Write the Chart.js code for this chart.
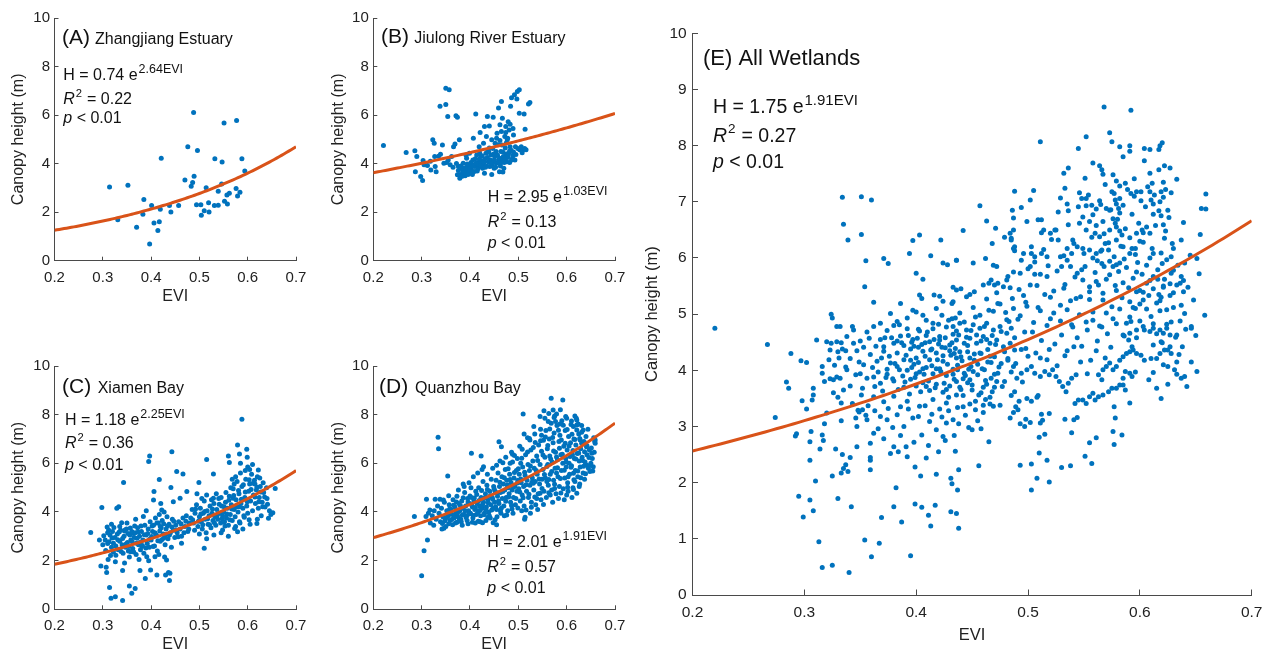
<!DOCTYPE html>
<html>
<head>
<meta charset="utf-8">
<script src="https://cdn.jsdelivr.net/npm/chart.js@4.4.1/dist/chart.umd.min.js"></script>
<style>
  html, body { margin: 0; padding: 0; background: #fff; }
  body { position: relative; width: 1262px; height: 652px; overflow: hidden; }
  canvas { position: absolute; }
</style>
</head>
<body>
<canvas id="pA"></canvas>
<canvas id="pB"></canvas>
<canvas id="pC"></canvas>
<canvas id="pD"></canvas>
<canvas id="pE"></canvas>
<script>
// sites, fit coefficients (H = a * e^(b*EVI)) and stats
const siteTags = ['(A)', '(B)', '(C)', '(D)', '(E)'];
const siteNames = ['Zhangjiang Estuary', 'Jiulong River Estuary', 'Xiamen Bay', 'Quanzhou Bay', 'All Wetlands'];
const fitScale = [0.74, 2.95, 1.18, 2.01, 1.75];
const fitRate = [2.64, 1.03, 2.25, 1.91, 1.91];
const rSquared = ['0.22', '0.13', '0.36', '0.57', '0.27'];
const pValue = ['0.01', '0.01', '0.01', '0.01', '0.01'];

const eviTicks = [0.2, 0.3, 0.4, 0.5, 0.6, 0.7];
const heightTicksSite = [0, 2, 4, 6, 8, 10];
const heightTicksAll = [0, 1, 2, 3, 4, 5, 6, 7, 8, 9, 10];

// [EVI, canopy height (m)]
const zhangjiangPts = [
  [0.314,3.04],[0.352,3.11],[0.331,1.69],[0.370,1.38],[0.385,2.52],[0.383,1.91],[0.397,0.69],[0.401,2.27],
  [0.406,1.55],[0.414,1.24],[0.417,1.61],[0.419,2.12],[0.421,4.22],[0.438,2.27],[0.441,2.01],[0.457,2.27],
  [0.470,3.33],[0.476,4.69],[0.483,3.07],[0.486,3.22],[0.489,3.48],[0.488,6.11],[0.496,4.54],[0.494,2.31],
  [0.503,2.31],[0.504,1.87],[0.510,2.06],[0.514,3.01],[0.519,2.39],[0.520,2.01],[0.531,2.27],[0.532,4.20],
  [0.539,2.28],[0.539,2.86],[0.547,4.07],[0.546,3.16],[0.551,5.67],[0.552,2.45],[0.557,2.71],[0.558,2.34],
  [0.562,2.78],[0.576,2.98],[0.577,5.78],[0.579,2.67],[0.584,2.82],[0.588,4.20],[0.594,3.70]
];

const jiulongPts = [
  [0.221,4.75],[0.268,4.46],[0.286,4.53],[0.290,4.29],[0.287,3.67],[0.298,3.47],[0.302,3.30],[0.303,4.13],
  [0.312,3.92],[0.319,3.74],[0.323,4.98],[0.326,4.84],[0.327,4.29],[0.330,3.67],[0.328,3.88],[0.338,6.36],
  [0.339,4.39],[0.343,4.77],[0.346,4.02],[0.350,6.44],[0.350,7.11],[0.357,7.04],[0.354,5.94],[0.355,4.15],
  [0.359,3.95],[0.362,4.29],[0.366,4.70],[0.371,5.97],[0.374,5.91],[0.369,4.81],[0.376,3.88],[0.378,4.98],
  [0.374,3.54],[0.379,3.40],[0.383,3.81],[0.386,4.02],[0.388,3.60],[0.392,3.67],[0.393,4.22],[0.397,3.74],
  [0.399,4.43],[0.401,3.95],[0.403,3.74],[0.406,4.15],[0.407,5.05],[0.410,3.88],[0.412,6.04],[0.414,4.36],
  [0.417,4.02],[0.419,4.70],[0.421,5.28],[0.423,4.29],[0.426,3.81],[0.428,4.84],[0.430,5.53],[0.430,3.60],
  [0.433,4.43],[0.434,5.12],[0.436,5.94],[0.438,4.08],[0.440,4.64],[0.441,3.88],[0.443,4.36],[0.445,4.98],
  [0.447,4.04],[0.448,5.91],[0.450,3.81],[0.451,4.29],[0.452,4.84],[0.454,4.50],[0.455,4.02],[0.456,5.25],
  [0.459,4.15],[0.459,6.29],[0.461,3.67],[0.462,5.60],[0.464,4.50],[0.465,6.56],[0.465,5.32],[0.466,4.77],
  [0.467,5.87],[0.469,4.29],[0.470,3.81],[0.472,5.12],[0.473,4.64],[0.474,5.53],[0.476,4.08],[0.477,4.98],
  [0.479,5.73],[0.480,4.43],[0.481,5.39],[0.483,4.70],[0.484,6.36],[0.486,6.71],[0.488,4.22],[0.490,5.18],
  [0.492,6.84],[0.494,4.70],[0.497,6.66],[0.498,6.97],[0.502,7.04],[0.502,6.08],[0.503,4.57],[0.506,4.70],
  [0.510,4.57],[0.512,6.04],[0.514,5.42],[0.516,4.57],[0.521,6.46],[0.524,6.52],
  [0.380,3.55],[0.385,3.70],[0.390,3.50],[0.395,3.85],[0.398,3.60],[0.402,4.05],[0.405,3.55],[0.408,3.95],
  [0.411,4.20],[0.415,3.70],[0.418,3.90],[0.420,4.45],[0.424,4.10],[0.427,3.95],[0.431,4.20],[0.435,3.90],
  [0.437,4.55],[0.442,4.15],[0.446,3.95],[0.449,4.40],[0.453,3.85],[0.457,4.35],[0.460,4.05],[0.463,3.90],
  [0.467,4.20],[0.471,4.05],[0.475,4.40],[0.478,4.25],[0.482,4.05],[0.485,4.55],[0.489,4.35],[0.493,4.15],
  [0.468,3.65],[0.445,3.55],[0.392,4.35],[0.372,4.00],[0.365,3.85],[0.352,4.05],[0.335,4.30],[0.318,4.10],
  [0.305,3.95],[0.462,4.95],[0.478,5.05],[0.489,5.45],[0.455,5.05],[0.440,5.55],
  [0.376,3.72],[0.381,3.90],[0.384,3.48],[0.389,3.82],[0.391,3.58],[0.394,3.98],[0.396,3.55],[0.399,3.78],
  [0.403,3.62],[0.406,3.89],[0.409,3.68],[0.413,4.02],[0.416,3.78],[0.419,4.18],[0.422,3.92],[0.425,4.32],
  [0.429,4.05],[0.432,3.85],[0.436,4.25],[0.439,4.48],[0.443,4.05],[0.447,4.62],[0.450,4.15],[0.454,4.38],
  [0.458,4.78],[0.461,4.22],[0.465,4.05],[0.468,4.48],[0.472,4.22],[0.475,4.85],[0.479,4.32],[0.482,4.52],
  [0.486,4.15],[0.490,4.48],[0.495,4.38],[0.499,4.62],[0.508,4.45],[0.513,4.62],[0.474,5.28],[0.483,5.62]
];

const xiamenPts = [
  [0.275,3.16],[0.298,4.18],[0.293,2.85],[0.296,1.78],[0.307,1.73],[0.308,1.51],[0.312,3.26],[0.314,0.90],
  [0.317,0.45],[0.326,0.52],[0.311,2.05],[0.322,2.71],[0.329,4.15],[0.333,4.22],[0.341,0.36],[0.341,1.59],
  [0.343,5.21],[0.339,3.56],[0.346,3.26],[0.355,0.96],[0.360,0.66],[0.367,0.86],[0.358,2.37],[0.363,3.12],
  [0.370,2.71],[0.377,1.59],[0.381,2.58],[0.384,3.81],[0.388,1.27],[0.391,2.16],[0.395,6.07],[0.397,6.30],
  [0.399,1.62],[0.401,2.99],[0.405,4.49],[0.406,4.84],[0.408,2.16],[0.412,1.41],[0.417,5.34],[0.419,3.40],
  [0.422,4.08],[0.426,2.92],[0.430,1.41],[0.432,2.03],[0.436,1.51],[0.438,1.18],[0.439,1.48],[0.441,5.01],
  [0.443,6.48],[0.446,4.42],[0.453,5.66],[0.460,4.56],[0.466,5.56],[0.474,4.84],[0.463,2.71],[0.499,5.21],
  [0.510,2.51],[0.515,6.16],[0.529,5.56],[0.529,4.56],[0.548,3.26],[0.560,6.30],[0.562,6.03],[0.570,4.56],
  [0.579,6.75],[0.583,6.38],[0.585,6.00],[0.588,7.81],[0.598,6.58],[0.599,6.25],[0.619,3.53],[0.622,5.73],
  [0.639,5.00],[0.643,3.74],[0.652,3.97],[0.657,4.97],[0.579,3.19],[0.583,3.60],
  [0.305,2.85],[0.310,2.70],[0.315,3.05],[0.318,2.55],[0.320,3.20],[0.322,2.35],[0.325,2.95],[0.327,2.60],
  [0.330,3.10],[0.332,2.45],[0.335,2.80],[0.337,3.25],[0.340,2.65],[0.342,2.30],[0.344,3.00],[0.347,2.55],
  [0.349,3.30],[0.351,2.75],[0.353,2.40],[0.356,3.05],[0.358,2.85],[0.360,3.20],[0.362,2.50],[0.365,2.95],
  [0.367,3.15],[0.369,2.25],[0.372,3.35],[0.374,2.65],[0.376,3.00],[0.378,2.45],[0.380,3.20],[0.383,2.85],
  [0.385,2.30],[0.387,3.45],[0.390,3.05],[0.392,2.70],[0.394,3.30],[0.396,2.55],[0.398,3.60],[0.400,2.85],
  [0.403,3.20],[0.405,3.45],[0.407,2.60],[0.409,3.75],[0.411,3.05],[0.413,2.40],[0.415,3.55],[0.417,3.90],
  [0.419,2.80],[0.421,3.35],[0.423,3.65],[0.425,3.10],[0.427,4.00],[0.429,2.65],[0.431,3.30],[0.433,3.80],
  [0.435,2.90],[0.437,3.50],[0.440,3.15],[0.442,2.55],[0.444,3.70],[0.446,3.25],[0.449,2.95],[0.451,3.45],
  [0.454,3.15],[0.457,3.60],[0.460,3.30],[0.463,3.00],[0.466,3.75],[0.470,3.40],[0.473,3.85],[0.476,3.20],
  [0.479,3.55],[0.310,3.15],[0.335,3.40],[0.355,2.15],[0.375,2.05],[0.395,2.00],[0.416,2.25],[0.428,2.15],
  [0.350,3.55],[0.368,3.70],[0.390,4.05],[0.420,4.35],[0.300,2.65],[0.326,1.95],[0.345,1.90],[0.318,3.50],
  [0.302,3.02],[0.306,2.42],[0.309,3.38],[0.313,2.78],[0.316,2.21],[0.319,2.93],[0.323,3.36],[0.327,2.22],
  [0.331,2.86],[0.334,3.18],[0.338,2.38],[0.341,2.91],[0.345,3.22],[0.348,2.68],[0.352,3.12],[0.354,2.58],
  [0.357,3.34],[0.361,2.78],[0.364,2.35],[0.366,3.42],[0.371,2.92],[0.373,3.18],[0.377,2.75],[0.379,3.42],
  [0.382,2.62],[0.386,3.06],[0.389,2.52],[0.393,3.12],[0.397,2.88],[0.402,3.42],[0.404,2.58],[0.408,3.15],
  [0.412,3.55],[0.414,2.82],[0.418,3.22],[0.422,2.86],[0.426,3.52],[0.430,3.06],[0.434,3.42],[0.438,3.05],
  [0.443,3.38],[0.447,3.62],[0.452,3.25],[0.456,2.98],[0.462,3.52],[0.468,3.15],[0.472,3.62],[0.478,3.30],
  [0.482,3.75],[0.485,4.10],[0.488,3.55],[0.491,3.95],[0.494,4.30],[0.497,3.40],[0.500,3.80],[0.502,4.15],
  [0.504,3.60],[0.506,3.30],[0.508,3.95],[0.510,4.45],[0.512,3.70],[0.514,3.15],[0.516,4.05],[0.518,3.50],
  [0.520,3.85],[0.522,4.25],[0.524,3.35],[0.526,3.95],[0.528,3.65],[0.530,4.35],[0.532,3.80],[0.534,3.45],
  [0.536,4.10],[0.538,3.70],[0.540,4.55],[0.542,3.95],[0.544,3.55],[0.546,4.25],[0.548,3.85],[0.550,4.00],
  [0.552,3.60],[0.554,4.40],[0.556,3.75],[0.558,4.15],[0.560,3.45],[0.562,4.65],[0.564,3.90],[0.566,4.30],
  [0.568,3.65],[0.570,4.95],[0.572,4.10],[0.574,3.80],[0.576,4.50],[0.578,5.25],[0.580,4.00],[0.582,4.75],
  [0.584,3.55],[0.586,4.35],[0.588,5.05],[0.590,4.15],[0.592,3.85],[0.594,4.60],[0.596,5.35],[0.598,4.25],
  [0.600,3.95],[0.602,4.85],[0.604,5.15],[0.606,4.45],[0.608,5.55],[0.610,4.05],[0.612,4.70],[0.614,5.30],
  [0.616,4.35],[0.618,4.90],[0.620,5.45],[0.622,4.15],[0.624,4.60],[0.626,5.05],[0.628,3.85],[0.630,4.40],
  [0.633,4.80],[0.636,4.20],[0.640,4.55],[0.645,4.05],[0.648,3.90],[0.585,5.60],[0.575,5.45],[0.565,5.00],
  [0.555,4.80],[0.545,4.60],[0.535,4.75],[0.525,4.50],[0.515,4.70],[0.505,4.55],[0.495,4.75],[0.490,3.25],
  [0.500,3.10],[0.515,2.90],[0.530,3.05],[0.545,3.15],[0.560,3.00],[0.575,3.40],[0.590,3.30],[0.605,3.50],
  [0.620,3.70],[0.600,5.85],[0.610,5.95],[0.595,5.70],[0.615,5.15],[0.625,5.40],[0.632,5.20],[0.572,5.15],
  [0.568,5.35],[0.604,5.75],
  [0.486,3.68],[0.492,4.12],[0.498,3.62],[0.503,3.92],[0.507,3.48],[0.511,4.02],[0.517,3.72],[0.521,3.48],
  [0.527,4.12],[0.531,3.56],[0.537,3.88],[0.541,4.32],[0.547,3.72],[0.551,4.22],[0.557,3.92],[0.561,4.48],
  [0.567,4.12],[0.571,4.68],[0.577,4.22],[0.581,4.88],[0.587,4.52],[0.591,5.12],[0.595,4.82],[0.599,4.42],
  [0.603,5.32],[0.607,4.92],[0.611,5.18],[0.615,4.62],[0.619,5.02],[0.623,4.42],[0.627,4.82],[0.631,4.22],
  [0.635,4.62],[0.641,4.32],[0.583,4.22],[0.593,3.78],[0.563,3.68],[0.553,3.42],[0.573,3.32],[0.603,3.68]
];

const quanzhouPts = [
  [0.285,3.81],[0.300,1.38],[0.305,2.41],[0.312,2.85],[0.309,3.81],[0.314,3.95],[0.317,4.08],[0.310,4.52],
  [0.328,4.52],[0.338,4.52],[0.345,4.49],[0.334,7.07],[0.335,6.60],[0.354,5.48],[0.346,3.33],[0.343,3.53],
  [0.356,4.67],[0.386,5.15],[0.403,6.41],[0.423,6.30],[0.428,5.86],[0.448,3.56],[0.455,3.47],[0.460,6.89],
  [0.465,6.68],[0.483,6.00],[0.488,6.37],[0.510,8.03],[0.512,7.21],[0.514,3.78],[0.524,6.96],[0.532,7.51],
  [0.545,7.92],[0.568,8.67],[0.592,8.60],[0.553,8.16],[0.572,8.19],[0.579,8.03],[0.600,7.85],[0.617,7.95],
  [0.621,7.78],[0.531,5.18],[0.545,4.77],[0.566,4.70],[0.600,4.70],[0.621,4.77],[0.614,5.59],[0.641,5.93],
  [0.648,5.66],[0.655,5.86],[0.652,6.41],[0.659,6.82],[0.659,6.96],[0.641,6.68],[0.634,7.37],[0.628,6.96],
  [0.621,7.37],[0.614,7.51],
  [0.322,3.85],[0.326,4.05],[0.330,3.70],[0.333,4.25],[0.336,3.95],[0.339,3.60],[0.341,4.15],[0.344,3.80],
  [0.347,4.40],[0.349,3.70],[0.352,4.05],[0.355,3.85],[0.357,4.30],[0.359,3.65],[0.342,3.30],[0.350,3.40],
  [0.318,3.55],[0.325,3.45],
  [0.361,4.10],[0.363,3.90],[0.365,4.50],[0.367,3.75],[0.369,4.20],[0.371,4.00],[0.373,4.65],[0.375,3.80],
  [0.377,4.35],[0.379,4.05],[0.381,3.70],[0.383,4.45],[0.385,4.15],[0.387,3.90],[0.389,4.80],[0.391,4.25],
  [0.393,3.85],[0.395,4.55],[0.397,4.05],[0.399,4.35],[0.370,3.55],[0.382,3.60],[0.394,3.65],[0.376,4.90],
  [0.388,5.05],[0.398,5.20],
  [0.401,3.95],[0.403,4.60],[0.405,4.20],[0.406,3.75],[0.408,4.45],[0.410,4.10],[0.412,4.85],[0.413,3.90],
  [0.415,4.35],[0.417,4.05],[0.418,5.00],[0.420,4.25],[0.422,3.85],[0.423,4.60],[0.425,4.15],[0.427,5.25],
  [0.428,4.40],[0.430,3.95],[0.432,4.75],[0.434,4.20],[0.435,5.10],[0.437,4.50],[0.439,4.00],[0.441,4.85],
  [0.443,4.30],[0.444,5.35],[0.446,4.60],[0.448,4.15],[0.449,5.05],[0.411,3.55],[0.421,3.60],[0.433,3.65],
  [0.442,3.75],[0.407,5.45],[0.416,5.60],[0.425,5.75],[0.436,5.55],[0.447,5.80],[0.402,5.00],
  [0.451,4.40],[0.452,4.85],[0.454,5.30],[0.455,4.10],[0.457,4.65],[0.458,5.60],[0.460,4.35],[0.461,5.05],
  [0.463,4.80],[0.464,3.95],[0.466,5.45],[0.467,4.55],[0.469,5.15],[0.470,4.25],[0.472,4.90],[0.473,5.75],
  [0.475,4.60],[0.476,5.30],[0.478,4.05],[0.479,5.00],[0.481,4.75],[0.482,5.55],[0.484,4.40],[0.485,5.20],
  [0.487,4.90],[0.488,6.05],[0.490,4.60],[0.491,5.40],[0.493,5.05],[0.494,4.30],[0.496,5.70],[0.497,4.85],
  [0.499,5.30],[0.462,6.10],[0.474,6.25],[0.486,6.45],[0.498,6.20],[0.456,3.80],[0.471,3.85],[0.489,3.95],
  [0.501,4.95],[0.502,5.55],[0.504,4.45],[0.505,6.00],[0.506,5.20],[0.508,4.70],[0.509,5.85],[0.511,5.05],
  [0.512,4.25],[0.514,5.50],[0.515,6.35],[0.517,4.85],[0.518,5.30],[0.520,5.95],[0.521,4.60],[0.523,5.70],
  [0.524,5.10],[0.526,6.55],[0.527,4.40],[0.529,5.40],[0.530,6.10],[0.532,4.90],[0.533,5.80],[0.535,5.25],
  [0.536,4.30],[0.538,6.30],[0.539,5.55],[0.541,4.75],[0.542,6.75],[0.544,5.15],[0.545,5.95],[0.547,4.50],
  [0.548,6.50],[0.549,5.35],[0.503,6.70],[0.519,7.05],[0.534,7.20],[0.546,7.40],[0.507,4.05],[0.525,3.95],
  [0.540,4.10],[0.513,3.70],
  [0.551,5.75],[0.552,6.95],[0.553,4.85],[0.555,6.25],[0.556,5.40],[0.557,7.35],[0.558,4.60],[0.560,6.60],
  [0.561,5.95],[0.562,5.10],[0.564,7.00],[0.565,6.30],[0.566,5.55],[0.568,7.65],[0.569,4.90],[0.570,6.05],
  [0.572,6.85],[0.573,5.30],[0.574,7.25],[0.576,5.80],[0.577,6.45],[0.578,4.75],[0.580,7.55],[0.581,6.15],
  [0.582,5.45],[0.584,6.90],[0.585,5.05],[0.586,7.15],[0.588,6.35],[0.589,5.70],[0.590,7.75],[0.592,6.00],
  [0.593,4.95],[0.594,6.70],[0.596,5.40],[0.597,7.35],[0.598,6.20],[0.599,5.85],[0.555,7.85],[0.563,8.05],
  [0.575,7.95],[0.587,8.20],[0.571,4.40],[0.583,4.55],[0.595,4.50],[0.559,5.25],[0.579,5.60],
  [0.601,6.55],[0.602,5.20],[0.604,7.10],[0.605,6.00],[0.606,5.55],[0.608,6.85],[0.609,7.60],[0.610,5.90],
  [0.612,6.35],[0.613,5.00],[0.615,7.00],[0.616,6.20],[0.618,5.70],[0.619,6.75],[0.620,7.85],[0.622,6.40],
  [0.623,5.45],[0.625,7.20],[0.626,6.10],[0.628,5.85],[0.629,6.60],[0.631,7.55],[0.632,6.25],[0.634,5.60],
  [0.636,6.90],[0.638,6.05],[0.640,7.10],[0.642,6.35],[0.645,5.80],[0.647,6.55],[0.650,6.00],[0.653,6.20],
  [0.656,7.05],[0.658,6.90],[0.603,4.85],[0.611,4.60],[0.617,5.25],[0.627,5.15],[0.637,5.35],[0.644,7.40],
  [0.352,3.78],[0.358,4.12],[0.362,3.69],[0.366,4.28],[0.368,3.86],[0.372,4.41],[0.374,3.95],[0.378,3.72],
  [0.380,4.27],[0.384,3.88],[0.386,4.58],[0.390,4.05],[0.392,3.77],[0.396,4.41],[0.398,3.92],[0.400,4.66],
  [0.404,4.27],[0.407,3.86],[0.409,4.57],[0.411,4.18],[0.414,4.72],[0.416,3.96],[0.419,4.47],[0.421,4.06],
  [0.424,4.88],[0.426,4.30],[0.429,3.89],[0.431,4.58],[0.433,4.07],[0.436,4.92],[0.438,4.37],[0.440,3.84],
  [0.442,4.67],[0.445,4.08],[0.447,4.52],[0.450,4.95],[0.453,4.22],[0.456,4.78],[0.459,4.45],[0.462,5.22],
  [0.465,4.16],[0.468,4.84],[0.471,5.41],[0.474,4.44],[0.477,5.11],[0.480,4.62],[0.483,5.34],[0.486,4.27],
  [0.489,5.02],[0.492,5.62],[0.495,4.55],[0.498,5.19],[0.500,5.78],[0.503,4.82],[0.505,5.36],[0.507,6.21],
  [0.510,4.58],[0.513,5.63],[0.516,5.12],[0.519,6.47],[0.522,4.73],[0.525,5.89],[0.528,5.22],[0.531,6.65],
  [0.534,4.62],[0.537,5.71],[0.540,6.12],[0.543,5.36],[0.546,6.93],[0.549,4.97],[0.551,6.34],[0.554,5.54],
  [0.556,7.08],[0.559,5.87],[0.561,6.73],[0.563,5.33],[0.565,7.41],[0.567,6.18],[0.569,5.66],[0.571,7.06],
  [0.573,6.51],[0.575,5.14],[0.577,7.72],[0.579,6.26],[0.581,5.82],[0.583,7.36],[0.585,6.62],[0.587,5.38],
  [0.589,6.96],[0.591,6.37],[0.593,7.56],[0.595,5.72],[0.597,6.82],[0.599,6.05],[0.601,7.39],[0.603,5.45],
  [0.605,6.71],[0.607,6.28],[0.609,5.84],[0.611,7.19],[0.613,6.53],[0.615,5.32],[0.617,6.98],[0.619,6.18],
  [0.621,7.58],[0.623,5.68],[0.625,6.42],[0.627,7.02],[0.629,5.41],[0.631,6.82],[0.633,6.12],[0.635,5.88],
  [0.637,6.48],[0.639,5.57],[0.642,6.72],[0.646,6.24],[0.649,5.92],[0.651,6.63],[0.654,5.68],[0.657,6.45],
  [0.455,5.92],[0.468,6.02],[0.479,5.78],[0.492,6.32],[0.508,6.58],[0.523,7.02],[0.535,6.86],[0.548,7.15],
  [0.562,7.72],[0.574,7.88],[0.586,7.62],[0.598,7.92],[0.610,7.74],[0.624,7.62],[0.631,7.28],[0.527,4.19],
  [0.516,4.08],[0.538,4.55],[0.552,4.31],[0.563,4.79],[0.575,4.96],[0.588,4.78],[0.602,5.02],[0.614,4.92],
  [0.626,5.05],[0.499,4.16],[0.487,4.12],[0.476,3.88],[0.463,4.05],[0.452,3.68],[0.437,3.78],[0.426,3.56],
  [0.417,3.62],[0.405,3.58],[0.396,3.52],[0.384,3.45],[0.373,3.58],[0.364,3.47],[0.356,3.52],[0.348,3.63]
];

const allWetlandPts = [
  [0.220,4.75],[0.334,7.08],[0.351,7.09],[0.360,7.03],[0.335,6.60],[0.339,6.32],[0.351,6.42],[0.355,5.95],
  [0.354,5.49],[0.362,5.21],[0.371,5.99],[0.375,5.90],[0.324,5.00],[0.325,4.93],[0.329,4.78],[0.343,4.78],
  [0.368,4.84],[0.377,5.01],[0.383,4.87],[0.386,5.19],[0.385,4.81],[0.394,6.08],[0.397,6.31],[0.403,6.41],
  [0.400,5.73],[0.406,5.62],[0.403,5.34],[0.405,5.28],[0.397,5.07],[0.400,5.04],[0.406,4.98],[0.413,6.04],
  [0.422,6.32],[0.416,5.34],[0.421,5.32],[0.424,5.23],[0.424,5.91],[0.428,5.88],[0.436,5.96],[0.433,5.48],
  [0.392,4.93],[0.409,4.89],[0.415,4.84],[0.423,4.98],[0.429,4.89],[0.435,4.93],[0.418,5.10],[0.432,5.19],
  [0.362,4.78],
  [0.568,8.69],[0.592,8.63],[0.552,8.16],[0.573,8.23],[0.511,8.07],[0.545,7.95],[0.575,8.07],[0.582,7.98],
  [0.591,8.00],[0.591,7.90],[0.604,7.95],[0.609,7.93],[0.617,7.93],[0.618,8.00],[0.620,8.05],[0.585,7.80],
  [0.604,7.73],[0.558,7.69],[0.564,7.64],[0.566,7.57],[0.567,7.49],[0.532,7.51],[0.536,7.60],[0.551,7.42],
  [0.579,7.37],[0.582,7.28],[0.587,7.33],[0.609,7.51],[0.617,7.57],[0.622,7.64],[0.627,7.60],[0.633,7.40],
  [0.488,7.19],[0.505,7.20],[0.502,7.03],[0.457,6.93],[0.494,6.90],[0.486,6.85],[0.533,7.24],[0.529,7.07],
  [0.546,7.16],[0.548,7.06],[0.535,6.96],[0.536,6.84],[0.552,7.06],[0.552,6.93],[0.557,6.94],[0.565,6.95],
  [0.570,6.88],[0.575,7.18],[0.577,7.15],[0.578,7.03],[0.579,6.96],[0.581,6.88],[0.582,6.80],[0.573,6.85],
  [0.576,6.70],[0.578,6.62],[0.579,6.55],[0.582,6.48],[0.592,7.15],[0.595,7.10],[0.597,7.18],[0.601,7.18],
  [0.609,7.18],[0.610,7.03],[0.612,6.96],[0.611,7.33],[0.619,7.18],[0.623,7.22],[0.628,7.16],[0.621,7.08],
  [0.618,7.00],[0.625,6.85],[0.659,7.14],[0.659,6.87],[0.654,6.42],[0.651,5.99],[0.640,5.91],
  [0.637,6.32],[0.630,6.17],[0.622,6.35],[0.621,6.59],[0.619,6.75],[0.612,6.78],[0.606,6.55],[0.602,6.50],
  [0.597,6.44],[0.593,6.17],[0.585,6.20],[0.584,6.41],[0.579,6.32],[0.573,6.50],[0.567,6.65],[0.561,6.87],
  [0.558,6.77],[0.555,6.65],[0.549,6.73],[0.546,6.62],[0.552,6.50],[0.560,6.44],[0.564,6.38],[0.569,6.26],
  [0.572,6.14],[0.566,6.14],[0.561,6.08],[0.555,6.14],[0.549,6.17],[0.544,6.20],[0.540,6.32],[0.539,6.08],
  [0.535,6.17],[0.530,5.85],[0.529,6.02],[0.524,6.50],[0.520,6.44],[0.514,6.50],[0.512,6.68],[0.503,6.20],
  [0.503,6.08],[0.506,6.02],[0.502,5.85],[0.496,6.08],[0.494,5.96],[0.488,6.20],[0.488,6.13],[0.485,6.35],
  [0.484,6.44],[0.479,6.37],[0.471,6.53],[0.463,6.66],[0.442,6.49],[0.436,5.96],[0.451,5.91],[0.462,5.99],
  [0.468,6.26],[0.469,5.87],[0.472,5.85],[0.470,5.52],[0.473,5.55],[0.487,5.75],[0.493,5.73],[0.509,6.68],
  [0.527,6.32],[0.535,5.96],[0.538,5.85],[0.544,5.73],[0.549,5.61],[0.555,5.49],[0.558,6.00],[0.562,5.95],
  [0.566,5.90],[0.568,5.85],[0.576,5.85],[0.582,5.91],[0.586,5.98],[0.591,6.08],[0.596,6.17],[0.600,6.30],
  [0.603,6.45],[0.609,6.00],[0.612,6.08],[0.620,5.90],[0.624,5.97],[0.628,6.02],[0.628,5.73],[0.630,5.78],
  [0.621,5.50],[0.616,5.62],[0.612,5.67],[0.606,5.55],[0.600,5.42],[0.597,5.40],[0.636,5.55],[0.637,5.67],
  [0.639,5.60],[0.617,5.35],[0.621,5.48],[0.619,5.30],[0.603,5.25],[0.596,5.10],[0.591,4.95],[0.646,4.75],
  [0.658,4.98],
  [0.433,5.22],[0.439,5.02],[0.445,5.31],[0.451,5.12],[0.457,4.98],[0.463,5.27],[0.469,5.05],[0.475,5.18],
  [0.481,4.90],[0.487,5.10],[0.493,4.97],[0.499,5.14],[0.505,4.85],[0.511,5.06],[0.517,4.80],[0.523,5.02],
  [0.529,4.88],[0.535,5.08],[0.540,4.77],[0.546,4.99],[0.552,4.86],[0.558,5.04],[0.564,4.79],[0.570,5.02],
  [0.576,4.92],[0.582,5.09],[0.588,4.84],[0.594,5.12],[0.600,4.88],[0.606,5.09],[0.612,4.83],[0.618,5.06],
  [0.624,4.82],[0.630,5.12],[0.636,4.88],[0.640,5.01],
  [0.436,5.43],[0.448,5.35],[0.460,5.52],[0.472,5.38],[0.484,5.47],[0.496,5.33],[0.508,5.51],[0.520,5.30],
  [0.532,5.46],[0.543,5.28],[0.555,5.40],[0.567,5.25],[0.579,5.42],[0.591,5.22],[0.603,5.39],[0.615,5.20],
  [0.627,5.33],[0.639,5.40],[0.561,5.58],[0.573,5.70],[0.585,5.56],[0.597,5.75],[0.609,5.60],[0.633,5.52],
  [0.579,5.88],[0.548,5.79],[0.517,5.67],[0.506,5.71],[0.500,5.81],[0.482,5.67],[0.478,5.49],[0.481,5.61],
  [0.465,5.55],[0.467,5.61],[0.440,5.45],[0.452,5.40],[0.517,6.02],[0.512,6.08],[0.499,6.65],[0.487,6.50],
  [0.487,6.71],[0.485,6.32],[0.487,6.17],[0.512,6.45],[0.525,6.50],
  [0.267,4.46],[0.288,4.30],[0.284,3.79],[0.286,3.68],[0.274,3.16],[0.292,2.83],[0.293,2.87],[0.297,4.17],
  [0.302,4.14],[0.298,3.46],[0.302,3.31],[0.295,1.76],[0.305,1.69],[0.299,1.39],[0.308,1.50],[0.305,2.40],
  [0.310,2.03],[0.313,0.95],[0.316,0.49],[0.325,0.53],[0.340,0.40],[0.330,1.72],[0.342,1.57],[0.354,0.98],
  [0.360,0.68],[0.367,0.92],[0.369,1.38],[0.380,1.57],[0.382,1.91],[0.387,1.30],[0.395,0.70],[0.399,2.28],
  [0.404,2.12],[0.399,1.62],[0.405,1.56],[0.411,1.42],[0.413,1.23],[0.417,1.60],[0.418,2.15],[0.409,2.44],
  [0.424,2.82],[0.435,2.56],[0.438,2.23],[0.431,2.08],[0.432,1.98],[0.437,1.87],[0.431,1.48],[0.436,1.45],
  [0.438,1.19],[0.325,2.12],[0.333,2.17],[0.335,2.25],[0.337,2.32],[0.339,2.20],[0.341,2.45],[0.328,2.60],
  [0.334,2.50],[0.347,2.64],[0.346,3.15],[0.349,3.26],[0.352,3.30],[0.355,3.20],[0.359,2.45],[0.359,2.70],
  [0.359,2.23],[0.314,2.60],[0.316,2.85],[0.318,3.05],[0.320,3.24],[0.317,2.75],[0.305,2.73],[0.306,2.91],
  [0.307,3.47],[0.308,3.56],[0.308,3.68],[0.316,4.07],[0.316,3.95],[0.318,3.80],[0.311,4.54],[0.320,4.51],
  [0.324,4.48],[0.323,4.36],[0.329,4.51],[0.333,4.49],[0.330,4.33],[0.334,4.38],[0.337,4.35],[0.323,3.85],
  [0.326,3.83],[0.329,3.88],[0.332,3.86],[0.326,3.60],[0.330,3.52],[0.335,3.65],[0.333,3.10],[0.333,3.42],
  [0.332,4.78],[0.338,4.60],[0.344,4.72],[0.350,4.52],[0.356,4.68],[0.368,4.55],[0.374,4.71],[0.380,4.80],
  [0.386,4.61],[0.392,4.74],[0.397,4.55],[0.403,4.70],[0.409,4.62],[0.415,4.74],[0.421,4.60],[0.427,4.77],
  [0.433,4.64],[0.341,4.21],[0.347,4.35],[0.353,4.10],[0.359,4.28],[0.365,4.16],[0.371,4.34],[0.377,4.13],
  [0.383,4.31],[0.389,4.19],[0.395,4.38],[0.400,4.22],[0.406,4.34],[0.412,4.19],[0.418,4.31],[0.424,4.16],
  [0.430,4.35],[0.436,4.22],[0.380,4.48],[0.389,4.44],[0.396,4.50],[0.402,4.41],[0.408,4.49],[0.414,4.38],
  [0.420,4.47],[0.426,4.40],[0.432,4.49],[0.338,4.01],[0.350,3.94],[0.362,3.88],[0.374,4.02],[0.383,4.07],
  [0.392,4.00],[0.398,4.11],[0.403,3.97],[0.409,4.05],[0.415,3.94],[0.421,4.03],[0.427,3.91],[0.433,4.02],
  [0.368,3.77],[0.380,3.81],[0.389,3.70],[0.395,3.84],[0.400,3.72],[0.406,3.78],[0.412,3.64],[0.418,3.75],
  [0.424,3.61],[0.430,3.72],[0.436,3.56],[0.362,3.53],[0.371,3.44],[0.380,3.54],[0.386,3.35],[0.392,3.45],
  [0.403,3.36],[0.415,3.48],[0.421,3.31],[0.427,3.42],[0.368,3.18],[0.374,3.12],[0.383,3.21],[0.389,3.00],
  [0.397,3.15],[0.405,2.85],[0.412,3.09],[0.418,2.94],[0.427,3.06],[0.433,3.12],[0.362,2.88],[0.380,2.64],
  [0.392,2.46],[0.377,2.52],[0.384,2.55],[0.391,2.64],[0.356,3.12],[0.348,3.29],[0.347,3.00],[0.359,2.40],
  [0.456,2.30],[0.465,2.73],[0.493,2.31],[0.503,2.33],[0.503,1.87],[0.508,2.08],[0.519,2.01],[0.517,2.40],
  [0.510,2.53],[0.530,2.27],[0.538,2.30],[0.551,2.47],[0.557,2.34],[0.555,2.71],[0.561,2.80],[0.577,2.68],
  [0.576,2.91],[0.584,2.85],[0.578,3.15],[0.577,3.35],[0.591,3.42],[0.585,3.74],[0.587,3.65],[0.579,3.68],
  [0.539,2.89],[0.544,3.16],[0.541,3.12],[0.533,3.13],[0.510,2.81],[0.515,2.86],[0.511,3.06],[0.513,3.11],
  [0.512,3.22],[0.519,3.23],[0.493,3.05],[0.498,3.13],[0.502,3.07],[0.497,3.00],[0.484,3.15],[0.487,3.25],
  [0.489,3.35],[0.492,3.45],[0.485,3.55],[0.488,3.62],[0.491,3.30],[0.499,3.50],[0.503,3.45],[0.508,3.52],
  [0.509,3.55],[0.460,3.38],[0.466,3.40],[0.469,3.36],[0.475,3.38],[0.438,3.05],[0.444,3.20],[0.450,2.94],
  [0.455,3.10],[0.460,3.25],[0.442,3.35],[0.448,3.40],[0.447,2.98],[0.453,3.30],[0.458,2.96],[0.439,3.70],
  [0.442,3.55],[0.446,3.78],[0.450,3.65],[0.453,3.45],[0.458,3.60],[0.463,3.75],[0.468,3.62],[0.472,3.80],
  [0.466,3.52],[0.462,3.48],[0.470,3.70],
  [0.490,3.86],[0.494,3.95],[0.499,4.01],[0.503,4.07],[0.506,3.95],[0.511,3.89],[0.515,3.98],[0.519,3.92],
  [0.522,4.01],[0.525,3.89],[0.528,3.80],[0.531,3.71],[0.534,3.62],[0.536,3.77],[0.539,3.86],[0.543,3.92],
  [0.545,3.47],[0.542,3.41],[0.549,3.47],[0.552,3.41],[0.555,3.53],[0.558,3.59],[0.560,3.47],[0.563,3.53],
  [0.567,3.56],[0.572,3.62],[0.575,3.68],[0.582,3.74],[0.585,3.86],[0.587,3.98],[0.591,3.95],[0.593,3.89],
  [0.566,3.83],[0.563,3.92],[0.567,4.01],[0.570,4.07],[0.573,4.13],[0.576,4.01],[0.579,4.07],[0.582,4.18],
  [0.585,4.24],[0.588,4.30],[0.591,4.33],[0.594,4.36],[0.597,4.30],[0.593,4.42],[0.590,4.54],[0.585,4.63],
  [0.591,4.66],[0.597,4.72],[0.603,4.78],[0.609,4.69],[0.612,4.75],[0.618,4.72],[0.621,4.66],[0.624,4.75],
  [0.627,4.63],[0.633,4.63],[0.619,4.51],[0.612,4.45],[0.604,4.18],[0.601,4.27],[0.615,4.21],[0.618,4.30],
  [0.622,4.36],[0.627,4.42],[0.628,4.30],[0.621,4.10],[0.625,4.07],[0.633,4.15],[0.631,4.01],[0.637,3.86],
  [0.640,3.89],[0.642,3.71],[0.615,3.68],[0.619,3.50],[0.651,3.98],[0.646,4.78],
  [0.433,4.78],[0.439,4.84],[0.445,4.72],[0.451,4.81],[0.457,4.75],[0.463,4.84],[0.469,4.72],[0.475,4.78],
  [0.481,4.66],[0.485,4.75],[0.436,4.54],[0.443,4.48],[0.448,4.57],[0.454,4.48],[0.460,4.60],[0.466,4.48],
  [0.472,4.54],[0.478,4.42],[0.484,4.48],[0.488,4.36],[0.434,4.30],[0.440,4.24],[0.446,4.33],[0.452,4.18],
  [0.458,4.30],[0.464,4.15],[0.470,4.24],[0.476,4.12],[0.482,4.21],[0.487,4.07],[0.437,4.01],[0.443,3.95],
  [0.449,4.07],[0.455,3.92],[0.461,4.01],[0.467,3.86],[0.473,3.95],[0.479,3.80],[0.448,3.83],[0.436,3.80],
  [0.371,4.42],[0.374,3.93],[0.378,4.58],[0.381,4.12],[0.384,3.66],[0.387,4.49],[0.388,3.90],[0.391,4.27],
  [0.393,4.62],[0.394,3.58],[0.396,4.05],[0.398,4.43],[0.399,3.87],[0.401,4.57],[0.402,4.14],[0.404,3.62],
  [0.405,4.46],[0.407,3.93],[0.408,4.25],[0.410,4.68],[0.411,3.81],[0.413,4.36],[0.414,4.08],[0.416,4.55],
  [0.417,3.69],[0.419,4.19],[0.420,4.82],[0.422,3.98],[0.423,4.41],[0.425,3.77],[0.426,4.58],[0.428,4.11],
  [0.429,3.52],[0.431,4.27],[0.432,4.92],[0.434,3.84],[0.435,4.39],[0.437,4.09],[0.438,4.63],[0.440,3.66],
  [0.441,4.17],[0.443,4.86],[0.444,3.91],[0.446,4.44],[0.447,4.02],[0.449,4.71],[0.450,3.74],[0.452,4.29],
  [0.453,4.95],[0.455,4.11],[0.456,3.56],[0.458,4.52],[0.459,4.03],[0.461,4.78],[0.462,3.82],[0.464,4.37],
  [0.465,5.07],[0.467,4.14],[0.468,4.62],[0.470,3.93],[0.471,4.46],[0.473,5.19],[0.474,4.06],[0.476,4.69],
  [0.477,3.71],[0.479,4.33],[0.480,5.03],[0.482,4.18],[0.483,4.87],[0.485,3.97],[0.486,5.28],[0.488,4.58],
  [0.489,4.12],[0.491,4.91],[0.492,5.44],[0.494,4.37],[0.495,3.79],[0.497,4.68],[0.498,5.21],[0.500,4.25],
  [0.376,4.25],[0.379,3.85],[0.383,4.52],[0.385,4.01],[0.390,3.79],[0.395,4.18],[0.400,3.94],[0.402,4.73],
  [0.406,4.03],[0.409,3.71],[0.412,4.51],[0.418,4.03],[0.421,4.54],[0.424,4.26],[0.427,3.66],[0.430,4.45],
  [0.433,3.93],[0.436,4.70],[0.439,4.33],[0.442,3.85],[0.445,4.59],[0.448,4.22],[0.451,3.98],[0.454,4.63],
  [0.457,4.31],[0.460,3.70],[0.463,4.55],[0.466,4.25],
  [0.502,5.52],[0.504,4.68],[0.506,5.93],[0.507,4.31],[0.509,5.12],[0.511,5.71],[0.512,4.53],[0.514,6.15],
  [0.515,5.35],[0.517,4.19],[0.518,5.86],[0.520,4.92],[0.521,6.33],[0.523,5.41],[0.524,4.47],[0.526,5.77],
  [0.527,6.82],[0.529,5.16],[0.530,4.63],[0.532,6.04],[0.533,5.53],[0.535,4.35],[0.536,6.59],[0.538,5.24],
  [0.539,4.81],[0.541,6.26],[0.542,5.66],[0.544,4.58],[0.545,6.91],[0.547,5.31],[0.548,4.43],[0.550,6.08],
  [0.551,5.85],[0.553,4.72],[0.554,7.12],
  [0.555,5.26],[0.557,6.37],[0.558,4.89],[0.560,5.74],[0.561,6.58],[0.562,4.52],[0.563,5.52],[0.564,7.02],
  [0.565,6.12],[0.566,4.77],[0.567,5.37],[0.568,6.43],[0.569,7.31],[0.570,5.62],[0.571,4.65],[0.572,6.27],
  [0.573,5.94],[0.574,6.86],[0.575,5.13],[0.576,7.48],[0.577,6.02],[0.578,5.51],[0.579,4.83],[0.580,6.69],
  [0.581,5.76],[0.582,7.06],[0.583,6.21],[0.584,5.29],[0.585,6.94],[0.586,4.61],[0.587,6.52],[0.588,5.83],
  [0.589,7.22],[0.590,5.47],[0.591,6.36],[0.592,4.87],[0.593,6.78],[0.594,5.64],[0.595,7.41],[0.596,6.06],
  [0.597,4.58],[0.598,5.92],[0.599,6.62],[0.600,5.18],[0.601,7.02],[0.602,5.71],[0.603,6.28],[0.604,4.72],
  [0.605,6.91],[0.606,5.87],[0.607,7.27],[0.608,5.33],[0.609,6.44],[0.610,4.96],[0.611,6.17],[0.612,5.45],
  [0.613,7.12],[0.614,6.58],[0.615,4.65],[0.616,5.79],[0.617,6.84],[0.618,5.24],[0.619,6.09],[0.620,4.49],
  [0.621,7.35],[0.622,5.62],[0.623,6.48],[0.624,5.08],[0.625,4.36],[0.626,6.72],[0.627,5.54],[0.628,4.86],
  [0.629,6.26],[0.630,5.38],[0.632,4.59],[0.634,5.87],[0.635,4.28],[0.637,5.16],[0.639,6.63],[0.641,4.73],
  [0.643,5.48],[0.645,6.05],[0.648,5.25],[0.650,4.62],[0.653,5.72],[0.655,6.88],
  [0.612,3.96],[0.608,3.83],[0.625,3.75],[0.633,3.93],[0.646,4.15],[0.638,4.42],[0.610,4.21],[0.596,3.97],
  [0.574,4.41],[0.569,4.22],[0.553,3.94],[0.547,4.15],[0.533,4.26],[0.519,4.37],[0.511,4.22],[0.498,4.39],
  [0.526,4.08],[0.541,4.42],[0.556,4.18],[0.561,4.35],
  [0.337,4.06],[0.341,3.72],[0.344,4.48],[0.346,3.92],[0.349,4.15],[0.352,3.68],[0.353,4.41],[0.356,3.86],
  [0.358,4.57],[0.361,4.05],[0.363,3.71],[0.364,4.43],[0.366,3.97],[0.369,4.22],[0.370,3.63],[0.372,4.58],
  [0.373,3.87],[0.327,4.09],[0.331,4.22],[0.322,4.19],[0.343,3.41],[0.351,3.56],[0.357,3.37],[0.363,3.28],
  [0.366,2.96],[0.371,2.78],[0.375,3.32],[0.379,2.98],[0.386,2.84],[0.393,3.31],[0.398,2.72],[0.402,3.18],
  [0.408,3.37],[0.411,2.66],[0.414,3.22],[0.420,2.55],[0.423,3.17],[0.426,2.75],[0.429,3.28],[0.434,2.84],
  [0.437,3.34]
];

const BLUE = '#0072BD';
const ORANGE = '#D95319';
const FONT = '"Liberation Sans", Arial, Helvetica, sans-serif';

// EVI samples for the fitted exponential curves
const curveEvi = [];
for (let e = 0.2; e <= 0.7001; e += 0.005) curveEvi.push(e);

// page-space geometry for each panel: canvas box [left, top, w, h], plot area [l, r, t, b]
const panels = [
  { id: 'pA', pts: zhangjiangPts, box: [0, 0, 320, 320], area: [54.5, 296, 18, 260.7], big: false,
    tag: [62, 43.5], name: [95, 43.5], eq: [63.3, 80, 104, 123] },
  { id: 'pB', pts: jiulongPts, box: [320, 0, 320, 320], area: [373.3, 615, 18, 260.7], big: false,
    tag: [381, 43], name: [414.3, 43], eq: [487.7, 201.7, 226.7, 248.3] },
  { id: 'pC', pts: xiamenPts, box: [0, 330, 320, 330], area: [54.5, 296, 366, 609.3], big: false,
    tag: [62, 393.3], name: [97.7, 393.3], eq: [65, 425, 448.3, 470] },
  { id: 'pD', pts: quanzhouPts, box: [320, 330, 320, 330], area: [373.3, 615, 366, 609.3], big: false,
    tag: [379, 392.7], name: [415, 392.7], eq: [487.3, 546.7, 571.7, 593.3] },
  { id: 'pE', pts: allWetlandPts, box: [632, 0, 630, 660], area: [692.5, 1251.7, 33.3, 595], big: true,
    tag: [703, 65], name: null, eq: [713, 113.3, 141.7, 168.3] }
];

function drawNotes(chart, p, i) {
  const ctx = chart.ctx;
  const ox = p.box[0], oy = p.box[1];
  const fs = p.big ? 19.5 : 16;
  const sup = p.big ? 15 : 12.5;
  ctx.save();
  ctx.fillStyle = '#111';
  ctx.textAlign = 'left';
  ctx.textBaseline = 'alphabetic';

  if (p.big) {
    ctx.font = `22px ${FONT}`;
    ctx.fillText(`${siteTags[i]} ${siteNames[i]}`, p.tag[0] - ox, p.tag[1] - oy);
  } else {
    ctx.font = `21px ${FONT}`;
    ctx.fillText(siteTags[i], p.tag[0] - ox, p.tag[1] - oy);
    ctx.font = `16px ${FONT}`;
    ctx.fillText(siteNames[i], p.name[0] - ox, p.name[1] - oy);
  }

  const x = p.eq[0] - ox;
  // H = a e^(b EVI)
  ctx.font = `${fs}px ${FONT}`;
  const head = `H = ${fitScale[i].toFixed(2)} e`;
  ctx.fillText(head, x, p.eq[1] - oy);
  const hw = ctx.measureText(head).width;
  ctx.font = `${sup}px ${FONT}`;
  ctx.fillText(`${fitRate[i].toFixed(2)}EVI`, x + hw + 1, p.eq[1] - oy - fs * 0.45);

  // R^2
  ctx.font = `italic ${fs}px ${FONT}`;
  ctx.fillText('R', x, p.eq[2] - oy);
  const rw = ctx.measureText('R').width;
  ctx.font = `${sup * 0.9}px ${FONT}`;
  ctx.fillText('2', x + rw + 1, p.eq[2] - oy - fs * 0.45);
  const sw = ctx.measureText('2').width;
  ctx.font = `${fs}px ${FONT}`;
  ctx.fillText(` = ${rSquared[i]}`, x + rw + sw + 1.5, p.eq[2] - oy);

  // p value
  ctx.font = `italic ${fs}px ${FONT}`;
  ctx.fillText('p', x, p.eq[3] - oy);
  const pw = ctx.measureText('p').width;
  ctx.font = `${fs}px ${FONT}`;
  ctx.fillText(` < ${pValue[i]}`, x + pw, p.eq[3] - oy);
  ctx.restore();
}

panels.forEach((p, i) => {
  const cv = document.getElementById(p.id);
  const [bx, by, bw, bh] = p.box;
  cv.width = bw; cv.height = bh;
  cv.style.left = bx + 'px'; cv.style.top = by + 'px';
  cv.style.width = bw + 'px'; cv.style.height = bh + 'px';

  const [al, ar, at, ab] = p.area;
  const yAxisW = al - bx;
  const xAxisH = by + bh - ab;
  const tickLen = p.big ? -5.5 : -4;
  const tickFont = p.big ? 15.5 : 15;
  const titleFont = p.big ? 16.5 : 16;
  const xTitleCenter = p.big ? 635 : (by === 0 ? 297 : 645);
  const yTitleCenter = p.big ? 652 : bx + 19;
  const yTicks = p.big ? heightTicksAll : heightTicksSite;

  const clearPad = (s) => { s.paddingLeft = 0; s.paddingRight = 0; s.paddingTop = 0; s.paddingBottom = 0; };

  const curve = curveEvi.map(e => ({ x: e, y: fitScale[i] * Math.exp(fitRate[i] * e) }));
  const dots = p.pts.map(d => ({ x: d[0], y: d[1] }));

  new Chart(cv, {
    type: 'scatter',
    data: {
      datasets: [
        { data: curve, showLine: true, pointRadius: 0, borderColor: ORANGE, borderWidth: 3, order: 0 },
        { data: dots, pointRadius: 2.5, pointHoverRadius: 2.5, backgroundColor: BLUE, borderWidth: 0, order: 1 }
      ]
    },
    options: {
      responsive: false,
      animation: false,
      devicePixelRatio: 1,
      events: [],
      layout: { padding: { left: 0, top: at - by, right: bx + bw - ar, bottom: 0 } },
      plugins: { legend: { display: false }, tooltip: { enabled: false } },
      scales: {
        x: {
          type: 'linear', min: 0.2, max: 0.7,
          afterBuildTicks: s => { s.ticks = eviTicks.map(v => ({ value: v })); },
          afterFit: s => { s.height = xAxisH; clearPad(s); },
          grid: { drawOnChartArea: false, drawTicks: true, tickLength: tickLen, color: '#4a4a4a', lineWidth: 1 },
          border: { display: true, color: '#4a4a4a', width: 1 },
          ticks: {
            color: '#222', font: { family: FONT, size: tickFont }, maxRotation: 0,
            padding: (p.big ? 18 : 17) - tickFont * 0.6 - tickLen,
            callback: v => Number(v).toFixed(1)
          },
          title: {
            display: true, text: 'EVI', color: '#222',
            font: { family: FONT, size: titleFont },
            padding: { top: 0, bottom: (by + bh - xTitleCenter) - titleFont * 0.6 }
          }
        },
        y: {
          type: 'linear', min: 0, max: 10,
          afterBuildTicks: s => { s.ticks = yTicks.map(v => ({ value: v })); },
          afterFit: s => { s.width = yAxisW; clearPad(s); },
          grid: { drawOnChartArea: false, drawTicks: true, tickLength: tickLen, color: '#4a4a4a', lineWidth: 1 },
          border: { display: true, color: '#4a4a4a', width: 1 },
          ticks: {
            color: '#222', font: { family: FONT, size: tickFont },
            padding: (p.big ? 5.8 : 4.5) - tickLen,
            callback: v => String(v)
          },
          title: {
            display: true, text: 'Canopy height (m)', color: '#222',
            font: { family: FONT, size: titleFont },
            padding: { top: (yTitleCenter - bx) - titleFont * 0.6, bottom: 0 }
          }
        }
      }
    },
    plugins: [{ id: 'notes', afterDraw: chart => drawNotes(chart, p, i) }]
  });
});
</script>
</body>
</html>
